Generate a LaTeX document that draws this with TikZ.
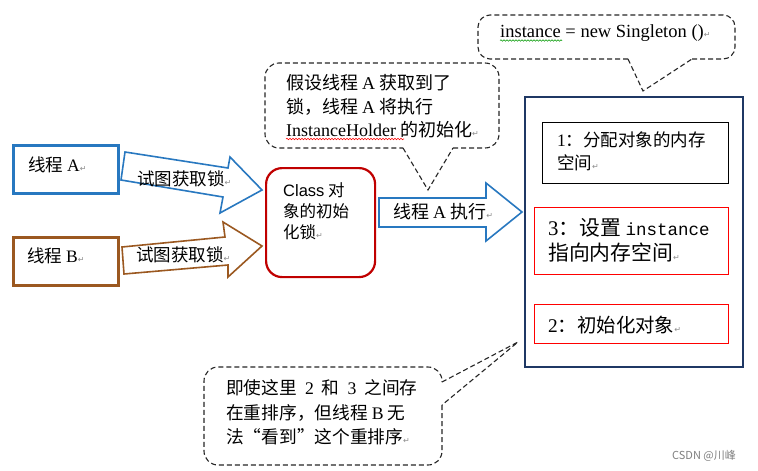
\documentclass[tikz,border=0pt]{standalone}
\usepackage{fontspec}
\setmainfont{Noto Sans CJK SC}
\newfontfamily\lat{Liberation Serif}
\newfontfamily\arial{Liberation Sans}
\newfontfamily\mono{Liberation Mono}
\newfontfamily\djv{DejaVu Sans}
\usetikzlibrary{decorations.pathmorphing}
\definecolor{thA}{RGB}{40,120,192}
\definecolor{thB}{RGB}{155,88,32}
\definecolor{lockred}{RGB}{192,0,0}
\definecolor{navyb}{RGB}{31,56,100}
\definecolor{boxred}{RGB}{255,0,0}
\newcommand{\parmk}{{\djv\fontsize{8}{8}\selectfont\color{black!45}↵}}
\begin{document}
\begin{tikzpicture}[x=1pt,y=-1pt,
  box/.style={draw, inner sep=0pt, anchor=north west},
  txt/.style={inner sep=0pt, anchor=west, align=left, font=\fontsize{18}{23.5}\selectfont},
  blockarrow/.style={line width=1.6pt, fill=white, line join=miter},
  callout/.style={draw=black!85, line width=1.1pt, dash pattern=on 5pt off 3pt},
  squig/.style={line width=0.6pt, decorate, decoration={snake, amplitude=0.7pt, segment length=3pt}}]
\useasboundingbox (0,0) rectangle (758,471);
\fill[white] (0,0) rectangle (758,471);

% thread boxes
\node[box, draw=thA, line width=2.6pt, minimum width=105pt, minimum height=48pt] (tA) at (12,144) {};
\node[txt, font=\fontsize{17.5}{17.5}\selectfont] (tAl) at (28,165) {线程 {\lat A}\parmk};
\node[box, draw=thB, line width=2.6pt, minimum width=105pt, minimum height=48pt] (tB) at (12,236) {};
\node[txt, font=\fontsize{17.5}{17.5}\selectfont] (tBl) at (27,256) {线程 {\lat B}\parmk};

% block arrows to lock
\draw[blockarrow, draw=thA] (125,152) -- (228,168) -- (230,157) -- (262,190) -- (220,213) -- (223,197) -- (121,180) -- cycle;
\node[txt, font=\fontsize{17.5}{17.5}\selectfont] (aAl) at (137,179) {试图获取锁\parmk};
\draw[blockarrow, draw=thB] (122,247) -- (225,237) -- (223,222) -- (262,246) -- (228,277) -- (228,265) -- (124,274) -- cycle;
\node[txt, font=\fontsize{17.5}{17.5}\selectfont] (aBl) at (136,255) {试图获取锁\parmk};

% lock
\node[box, draw=lockred, line width=2.2pt, rounded corners=16pt, minimum width=109pt, minimum height=109pt] (lock) at (265,167) {};
\node[txt, font=\fontsize{16.5}{21}\selectfont] (lockl) at (283,211) {{\arial Class} 对\\象的初始\\化锁\parmk};

% execute arrow
\draw[blockarrow, draw=thA] (379,198) -- (486,198) -- (486,183) -- (522,212) -- (486,241) -- (486,227) -- (379,227) -- cycle;
\node[txt] (execl) at (393,212) {线程 {\lat A} 执行\parmk};

% big box and steps
\node[box, draw=navyb, line width=2.4pt, minimum width=218pt, minimum height=270pt] (big) at (524,96) {};
\node[box, draw=black, line width=1.4pt, minimum width=186pt, minimum height=61pt] (s1) at (542,122) {};
\node[txt, font=\fontsize{17.5}{23}\selectfont] (s1l) at (557,151.5) {{\lat 1}：分配对象的内存\\空间\parmk};
\node[box, draw=boxred, line width=1.4pt, minimum width=194pt, minimum height=67pt] (s3) at (534,207) {};
\node[txt, font=\fontsize{20.8}{25}\selectfont] (s3l) at (548,240.5) {{\lat 3}：设置 {\mono\fontsize{17.5}{25}\selectfont instance}\\指向内存空间\parmk};
\node[box, draw=boxred, line width=1.4pt, minimum width=194pt, minimum height=39pt] (s2) at (534,304) {};
\node[txt, font=\fontsize{19.4}{19.4}\selectfont] (s2l) at (548,325) {{\lat 2}：初始化对象\parmk};

% callout 1
\draw[callout, rounded corners=14pt] (453,148) -- (499,148) -- (499,63) -- (265,63) -- (265,148) -- (403,148);
\draw[callout] (403,148) -- (428,190) -- (453,148);
\node[txt] (c1) at (286,106.5) {假设线程 {\lat A} 获取到了\\锁，线程 {\lat A} 将执行\\{\lat InstanceHolder} 的初始化\parmk};
\draw[squig, red] (286,139) -- (404,139);

% callout 2
\draw[callout, rounded corners=12pt] (692,59) -- (735,59) -- (735,15) -- (478,15) -- (478,59) -- (628,59);
\draw[callout] (628,59) -- (643,91) -- (692,59);
\node[txt, font=\fontsize{18.5}{18.5}\selectfont\lat] (c2) at (500,33) {instance = new Singleton ()\parmk};
\draw[squig, green!60!black] (500,40.5) -- (562,40.5);

% callout 3
\draw[callout, rounded corners=14pt] (442,405) -- (442,465) -- (204,465) -- (204,367) -- (442,367) -- (442,382);
\draw[callout] (442,382) -- (518,342) -- (442,405);
\node[txt, font=\fontsize{17.7}{24.5}\selectfont] (c3) at (226,412.5) {即使这里\hspace{8pt}{\lat 2}\hspace{8pt}和\hspace{8pt}{\lat 3}\hspace{8pt}之间存\\在重排序，但线程 {\lat B} 无\\法“看到”这个重排序\parmk};

% watermark
\node[inner sep=0pt, anchor=west, font=\fontsize{11}{11}\selectfont, text=black!50] (wm) at (672,456) {CSDN @川峰};
\end{tikzpicture}
\end{document}
